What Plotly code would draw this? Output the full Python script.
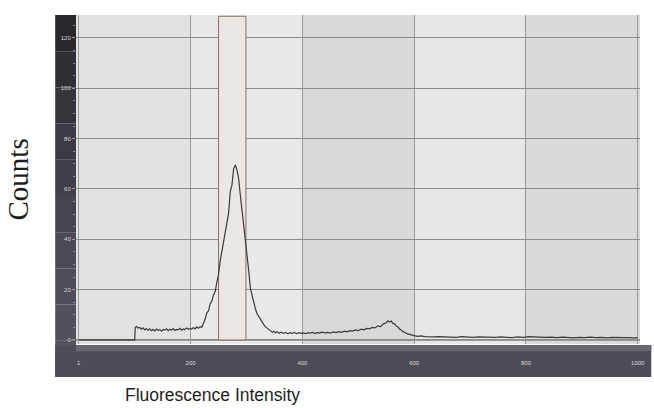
import plotly.graph_objects as go

# ---- data ----
channel = [0, 100, 101, 103, 106, 109, 112, 115, 118, 121, 124, 127, 130, 133, 136, 139, 142, 145,
           148, 151, 154, 157, 160, 163, 166, 169, 172, 175, 178, 181, 184, 187, 190, 193, 196, 199,
           202, 205, 208, 211, 214, 217, 220, 223, 226, 229, 232, 235, 238, 241, 244, 247, 250, 253,
           256, 259, 262, 265, 268, 271, 274, 277, 280, 283, 286, 289, 292, 295, 298, 301, 304, 307,
           310, 313, 316, 319, 322, 325, 328, 331, 334, 337, 340, 343, 346, 349, 352, 355, 358, 362,
           366, 370, 374, 378, 382, 386, 390, 394, 398, 402, 406, 410, 414, 418, 422, 426, 430, 435,
           440, 445, 450, 455, 460, 465, 470, 475, 480, 485, 490, 495, 500, 505, 510, 515, 520, 525,
           530, 535, 540, 545, 550, 553, 556, 559, 562, 565, 568, 571, 574, 577, 580, 584, 588, 592,
           596, 600, 606, 612, 620, 628, 636, 645, 655, 665, 675, 685, 695, 705, 715, 725, 735, 745,
           755, 765, 775, 785, 795, 805, 815, 825, 835, 845, 855, 865, 875, 885, 895, 905, 915, 925,
           935, 945, 955, 965, 975, 985, 995, 1000]
counts = [0, 0, 4.9, 5.4, 4.7, 5.0, 4.3, 4.8, 4.0, 4.5, 3.8, 4.4, 3.7, 4.2, 3.6, 4.3, 3.8, 4.1,
          3.5, 4.2, 3.9, 4.4, 3.7, 4.3, 3.9, 4.5, 3.8, 4.2, 4.0, 4.6, 3.9, 4.4, 4.1, 4.7, 4.2, 4.6,
          4.3, 4.9, 4.4, 5.2, 4.7, 5.3, 5.0, 6.3, 8.2, 10.8, 11.6, 14.3, 15.5, 17.9, 19.2, 22.9, 26.1, 31.4,
          35.0, 40.2, 42.6, 47.1, 50.4, 59.0, 61.5, 68.0, 69.5, 67.6, 64.0, 57.5, 52.0, 45.0, 40.5, 34.5, 27.5, 20.5,
          17.4, 14.6, 12.3, 10.4, 9.2, 7.9, 6.8, 6.1, 5.2, 4.7, 4.0, 3.6, 3.1, 3.4, 2.9, 3.3, 2.7, 3.1,
          2.6, 3.0, 2.5, 2.9, 2.6, 3.0, 2.5, 2.9, 2.6, 2.8, 2.5, 2.9, 2.7, 3.0, 2.6, 2.9, 2.7, 3.1,
          2.8, 3.0, 2.7, 3.2, 2.9, 3.3, 3.0, 3.5, 3.2, 3.7, 3.5, 4.0, 3.7, 4.3, 4.0, 4.6, 4.4, 5.0,
          4.8, 5.6, 5.3, 6.4, 6.8, 7.6, 7.1, 7.5, 6.6, 6.4, 5.5, 5.2, 4.3, 4.0, 3.3, 3.0, 2.4, 2.2,
          1.8, 1.7, 1.4, 1.6, 1.3, 1.4, 1.2, 1.3, 1.1, 1.2, 1.0, 1.3, 1.1, 1.0, 1.2, 1.1, 1.3, 1.0,
          1.2, 1.1, 0.9, 1.2, 1.0, 1.3, 1.1, 1.2, 1.0, 1.1, 0.9, 1.1, 1.0, 0.8, 1.0, 0.9, 1.1, 0.9,
          1.0, 0.8, 1.0, 0.9, 0.8, 0.9, 0.8, 0.9]

x_tickvals = [0, 200, 400, 600, 800, 1000]
x_ticktext = ["1", "200", "400", "600", "800", "1000"]
y_tickvals = [0, 20, 40, 60, 80, 100, 120]
y_ticktext = ["0", "20", "40", "60", "80", "100", "120"]
gate = [250, 299]
band_edges = [-5, 200, 400, 600, 800, 1004]
band_colors = ["#e2e2e2", "#e9e9e9", "#d9d9d9", "#e7e7e7", "#dadada"]

X_RANGE = [-5, 1004]
Y_RANGE = [-1.6, 129.1]

fig = go.Figure()
fig.add_trace(go.Scatter(x=channel, y=counts, mode="lines",
                         line=dict(color="#3a3a3a", width=1.2), hoverinfo="skip", showlegend=False))

shapes = []
# background bands
for i, c in enumerate(band_colors):
    shapes.append(dict(type="rect", xref="x", yref="paper", x0=band_edges[i], x1=band_edges[i + 1],
                       y0=0, y1=1, fillcolor=c, line=dict(width=0), layer="below"))
# left dark strip (vertical gradient by stacking)
left_cols = ["#28282d", "#2e2e34", "#34343b", "#3a3a42", "#404049", "#45454f", "#4a4a54", "#4e4e58", "#51515b", "#53535d"]
n = len(left_cols)
top, bot = 1.0, -0.1003
for i, c in enumerate(left_cols):
    y1 = top - (top - bot) * i / n
    y0 = top - (top - bot) * (i + 1) / n
    shapes.append(dict(type="rect", xref="paper", yref="paper", x0=-0.0369, x1=0, y0=y0, y1=y1,
                       fillcolor=c, line=dict(width=0), layer="below"))
# bottom dark strip
shapes.append(dict(type="rect", xref="paper", yref="paper", x0=-0.0369, x1=1.02, y0=-0.1003, y1=-0.003,
                   fillcolor="#4d4d57", line=dict(width=0), layer="below"))
shapes.append(dict(type="rect", xref="paper", yref="paper", x0=0, x1=1.02, y0=-0.022, y1=-0.003,
                   fillcolor="#676771", line=dict(width=0), layer="below"))
# gate
shapes.append(dict(type="rect", xref="x", yref="y", x0=gate[0], x1=gate[1], y0=0, y1=128.6,
                   fillcolor="#ece7e2", line=dict(color="#8a6d62", width=1), layer="between"))
# baseline
shapes.append(dict(type="line", xref="paper", yref="y", x0=0, x1=1, y0=0, y1=0,
                   line=dict(color="#808080", width=1.5), layer="between"))

fig.update_layout(
    width=654, height=408,
    margin=dict(l=76, r=9, t=15, b=64),
    paper_bgcolor="white", plot_bgcolor="#e4e4e4",
    shapes=shapes,
    showlegend=False,
    xaxis=dict(range=X_RANGE, tickvals=x_tickvals, ticktext=x_ticktext, showgrid=True,
               gridcolor="#999999", gridwidth=1, zeroline=False, showline=False,
               ticks="", tickfont=dict(size=6, color="#d8d8d8", family="Liberation Sans"),
               ticklabelstandoff=14, fixedrange=True),
    yaxis=dict(range=Y_RANGE, tickvals=y_tickvals, ticktext=y_ticktext, showgrid=True,
               gridcolor="#8c8c8c", gridwidth=1, zeroline=False, showline=False,
               ticks="outside", ticklen=3, tickcolor="#9a9aa2",
               minor=dict(ticks="outside", ticklen=2, dtick=5, tickcolor="#8a8a92", showgrid=False),
               tickfont=dict(size=6, color="#d8d8d8", family="Liberation Sans"),
               fixedrange=True),
    annotations=[
        dict(text="Counts", xref="paper", yref="paper", x=(17 - 76) / 569, y=(344 - 180) / 329,
             showarrow=False, textangle=-90, xanchor="center", yanchor="middle",
             font=dict(family="Liberation Serif", size=29, color="#1e1e1e")),
        dict(text="Fluorescence Intensity", xref="paper", yref="paper", x=(214 - 76) / 569,
             y=(344 - 395) / 329, showarrow=False, xanchor="center", yanchor="middle",
             font=dict(family="Liberation Sans", size=17.5, color="#1e1e1e")),
    ],
)

fig.write_html("out.html", config={"displayModeBar": False},
               post_script="document.body.style.margin='0';document.body.style.overflow='hidden';")
